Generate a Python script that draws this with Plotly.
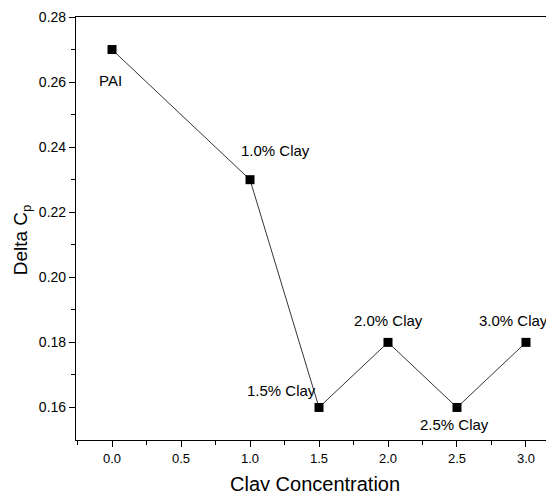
import plotly.graph_objects as go

x_vals = [0.0, 1.0, 1.5, 2.0, 2.5, 3.0]
y_vals = [0.27, 0.23, 0.16, 0.18, 0.16, 0.18]
point_labels = ["PAI", "1.0% Clay", "1.5% Clay", "2.0% Clay", "2.5% Clay", "3.0% Clay"]
label_dx = [-2, 25, -38, 0, -2, -12]
label_dy = [-31, 29, 17, 22, -17, 22]

x_ticks = [0.0, 0.5, 1.0, 1.5, 2.0, 2.5, 3.0]
x_tick_text = ["0.0", "0.5", "1.0", "1.5", "2.0", "2.5", "3.0"]
x_minor = [-0.25, 0.25, 0.75, 1.25, 1.75, 2.25, 2.75]
y_ticks = [0.16, 0.18, 0.20, 0.22, 0.24, 0.26, 0.28]
y_tick_text = ["0.16", "0.18", "0.20", "0.22", "0.24", "0.26", "0.28"]
y_minor = [0.17, 0.19, 0.21, 0.23, 0.25, 0.27]

font_family = "Liberation Sans, Arial, sans-serif"

fig = go.Figure()
fig.add_trace(go.Scatter(
    x=x_vals, y=y_vals, mode="lines+markers",
    line=dict(color="black", width=0.8),
    marker=dict(symbol="square", size=9, color="black"),
    showlegend=False, hoverinfo="skip",
))

for xv, yv, lab, dx, dy in zip(x_vals, y_vals, point_labels, label_dx, label_dy):
    fig.add_annotation(
        x=xv, y=yv, text=lab, showarrow=False,
        xshift=dx, yshift=dy,
        font=dict(size=15, color="black", family=font_family),
    )

# y-axis title
fig.add_annotation(
    xref="paper", yref="paper", x=0, y=0.472, xanchor="center", yanchor="middle",
    xshift=-54, text="Delta C<sub>p</sub>", textangle=-90, showarrow=False,
    font=dict(size=19, color="black", family=font_family),
)
# x-axis title
fig.add_annotation(
    xref="paper", yref="paper", x=0.5, y=-0.104, xanchor="center", yanchor="middle",
    text="Clay Concentration", showarrow=False,
    font=dict(size=20, color="black", family=font_family),
)

fig.update_layout(
    width=546, height=483,
    margin=dict(l=68, r=0, t=9, b=51, autoexpand=False),
    plot_bgcolor="white", paper_bgcolor="white",
    font=dict(family=font_family, color="black"),
    xaxis=dict(
        range=[-0.261, 3.203], tickvals=x_ticks, ticktext=x_tick_text,
        ticks="outside", ticklen=6, tickwidth=1, tickcolor="black",
        showline=True, linecolor="black", linewidth=1.2, mirror=True,
        showgrid=False, zeroline=False, automargin=False,
        tickfont=dict(size=13),
        minor=dict(tickvals=x_minor, ticks="outside", ticklen=4, tickcolor="black"),
    ),
    yaxis=dict(
        range=[0.15, 0.28], tickvals=y_ticks, ticktext=y_tick_text,
        ticks="outside", ticklen=6, tickwidth=1, tickcolor="black",
        showline=True, linecolor="black", linewidth=1.2,
        showgrid=False, zeroline=False, automargin=False,
        tickfont=dict(size=14),
        minor=dict(tickvals=y_minor, ticks="outside", ticklen=4, tickcolor="black"),
    ),
)

fig.write_html("out.html")
